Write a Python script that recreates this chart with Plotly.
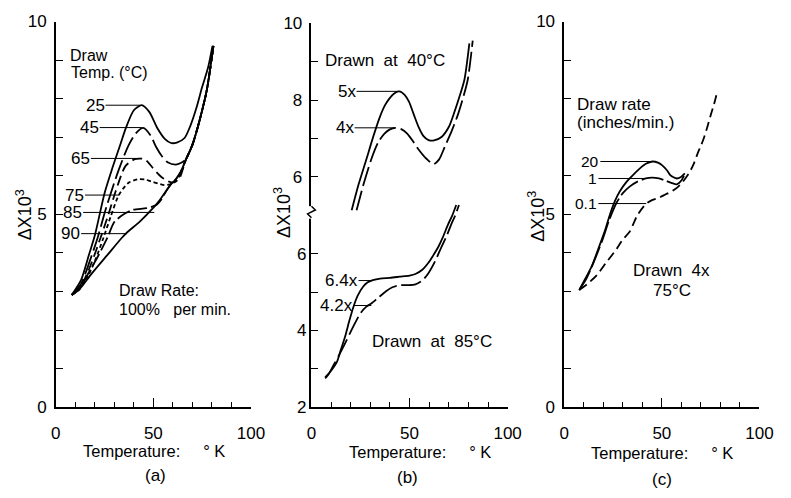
import plotly.graph_objects as go

W, H = 791, 498
FONT = "Liberation Sans"

# ---------------- panel (a): draw temperature ----------------
a_x_25 = [8.2, 13, 17, 20, 25, 29, 33, 36, 40, 44, 48, 52, 56, 59, 62, 66, 69, 72, 75, 78, 80.3]
a_y_25 = [2.91, 3.3, 3.95, 4.45, 5.55, 6.2, 6.8, 7.25, 7.7, 7.83, 7.65, 7.24, 6.95, 6.85, 6.86, 6.98, 7.3, 7.75, 8.3, 8.8, 9.37]

a_x_45 = [8.2, 13, 17.5, 21.5, 26, 32.3, 37.3, 41, 44.8, 48.5, 51.5, 54.5, 57.3, 61.5, 64, 66.5, 70, 73.5, 77.3, 80.8]
a_y_45 = [2.91, 3.2, 3.8, 4.4, 5.2, 6.16, 6.79, 7.1, 7.24, 7.05, 6.74, 6.5, 6.35, 6.29, 6.33, 6.42, 6.8, 7.4, 8.2, 9.37]

a_x_65 = [8.2, 13, 18, 23, 27, 30.7, 35.7, 40.5, 45.5, 49.8, 53, 55.7, 58, 60.7, 63.5, 66.5, 70, 73.5, 77.3, 80.8]
a_y_65 = [2.91, 3.15, 3.7, 4.4, 5.0, 5.6, 6.25, 6.43, 6.43, 6.2, 6.02, 5.91, 5.85, 5.83, 5.95, 6.4, 6.8, 7.4, 8.2, 9.37]

a_x_75 = [8.2, 12, 17, 20.5, 24.5, 28.2, 32.3, 37.3, 42.3, 46, 49, 52.5, 55.7, 58.5, 60.7, 63.5, 66.5, 70, 73.5, 77.3, 80.8]
a_y_75 = [2.91, 3.05, 3.45, 3.85, 4.4, 4.95, 5.5, 5.82, 5.91, 5.9, 5.85, 5.8, 5.76, 5.78, 5.83, 6.0, 6.4, 6.8, 7.4, 8.2, 9.37]

a_x_85 = [8.2, 12, 17, 21.5, 26.5, 30, 34.8, 39.8, 46.5, 51.5, 54, 56.5, 59, 61.5, 64, 66.5, 70, 73.5, 77.3, 80.8]
a_y_85 = [2.91, 3.07, 3.5, 3.9, 4.4, 4.8, 5.0, 5.12, 5.16, 5.24, 5.38, 5.6, 5.78, 5.91, 6.1, 6.4, 6.8, 7.4, 8.2, 9.37]

a_x_90 = [8.2, 12, 18.2, 26.5, 34, 36.5, 43.2, 49.8, 53, 56.5, 59, 61.5, 64, 66.5, 70, 73.5, 77.3, 80.8]
a_y_90 = [2.91, 3.05, 3.45, 3.95, 4.4, 4.53, 4.82, 5.16, 5.35, 5.6, 5.78, 5.91, 6.1, 6.4, 6.8, 7.4, 8.2, 9.37]

a_labels = ["25", "45", "65", "75", "85", "90"]
a_label_y = [7.83, 7.25, 6.45, 5.5, 5.05, 4.5]
a_label_x0 = [25.5, 22.5, 18.0, 15.0, 14.0, 13.0]
a_label_x1 = [43.0, 44.0, 44.0, 32.5, 50.5, 36.5]

# ---------------- panel (b): draw ratio ----------------
b_x_5x = [20.5, 24, 28, 31.5, 34.7, 37.5, 39.7, 42, 44.7, 47.5, 49.7, 52, 54.7, 57, 59.7, 62.5, 66.3, 70, 73, 75.5, 78, 80.5]
b_y_5x = [5.13, 5.8, 6.46, 7.05, 7.54, 7.87, 8.04, 8.17, 8.23, 8.14, 7.96, 7.65, 7.29, 7.07, 6.96, 6.95, 7.04, 7.3, 7.71, 8.1, 8.54, 9.48]

b_x_4x = [23, 26.5, 30.5, 34, 37.2, 40, 43, 46, 48.8, 51.5, 54.7, 58.5, 62.2, 65, 68, 71.5, 74.7, 77.5, 79.7, 82.2]
b_y_4x = [5.13, 5.8, 6.46, 6.9, 7.13, 7.24, 7.28, 7.24, 7.13, 6.95, 6.71, 6.48, 6.33, 6.45, 6.79, 7.2, 7.63, 8.1, 8.54, 9.55]

b_x_64x = [7, 10, 13, 15, 17.2, 19.3, 21.3, 23.5, 26.3, 28.5, 31.3, 35, 40, 45, 50, 53, 56.5, 59.7, 62, 64.7, 67, 69.7, 71.8, 73.8]
b_y_64x = [2.78, 2.95, 3.18, 3.5, 3.85, 4.25, 4.6, 4.9, 5.14, 5.25, 5.31, 5.35, 5.37, 5.4, 5.43, 5.47, 5.58, 5.77, 5.95, 6.18, 6.43, 6.77, 7.0, 7.27]

b_x_42x = [7, 9, 11.3, 14, 17, 21.3, 25, 28, 30.5, 34, 38, 41, 44.7, 49, 53, 56.5, 59.7, 63, 66.3, 68.8, 71.3, 73.3, 75.2]
b_y_42x = [2.75, 2.88, 3.1, 3.35, 3.65, 4.1, 4.45, 4.62, 4.7, 4.85, 5.02, 5.12, 5.18, 5.18, 5.2, 5.3, 5.5, 5.8, 6.18, 6.45, 6.77, 7.0, 7.27]

b_up_labels = ["5x", "4x"]
b_up_label_y = [8.23, 7.28]
b_up_label_x0 = [23.0, 22.0]
b_up_label_x1 = [44.5, 43.0]
b_lo_labels = ["6.4x", "4.2x"]
b_lo_label_y = [5.3, 4.65]
b_lo_label_x0 = [24.0, 21.5]
b_lo_label_x1 = [31.0, 30.5]

# ---------------- panel (c): draw rate ----------------
c_x_20 = [7.7, 11, 14.3, 17.7, 21, 23.5, 26, 28.5, 32, 35.2, 38.5, 41.8, 45.2, 48, 50.2, 52.5, 54.3, 56, 57.7, 59.8, 61.8]
c_y_20 = [3.04, 3.35, 3.68, 4.14, 4.6, 5.01, 5.35, 5.6, 5.85, 6.02, 6.18, 6.31, 6.37, 6.34, 6.27, 6.15, 6.02, 5.96, 5.93, 5.97, 6.06]

c_x_1 = [7.7, 11, 15, 19.3, 23, 26.8, 30, 33.5, 37.5, 41.8, 45, 48.5, 52, 55.2, 57.7, 60.2, 61.8]
c_y_1 = [3.04, 3.3, 3.75, 4.3, 4.85, 5.3, 5.55, 5.72, 5.85, 5.93, 5.95, 5.93, 5.87, 5.81, 5.78, 5.89, 6.06]

c_x_01 = [7.7, 12, 16.8, 21.5, 26.8, 30, 33.5, 37.5, 41.8, 45, 48.5, 52, 55.2, 58, 60.2, 62.3, 64.3, 66.5, 68.5, 70.2, 71.8, 73.5, 75.2, 76.7, 78]
c_y_01 = [3.04, 3.2, 3.43, 3.75, 4.1, 4.35, 4.55, 4.98, 5.27, 5.37, 5.43, 5.52, 5.6, 5.7, 5.81, 5.95, 6.1, 6.33, 6.6, 6.8, 7.02, 7.3, 7.6, 7.85, 8.1]

c_labels = ["20", "1", "0.1"]
c_label_y = [6.37, 5.93, 5.28]
c_label_x0 = [18.5, 17.5, 17.5]
c_label_x1 = [45.2, 43.0, 42.0]

x_tick_vals = [0, 50, 100]

# ---------------- figure ----------------
fig = go.Figure()


def curve(x, y, xa, ya, dash):
    fig.add_trace(go.Scatter(
        x=x, y=y, xaxis=xa, yaxis=ya, mode="lines", showlegend=False, hoverinfo="skip",
        line=dict(color="black", width=1.8, dash=dash, shape="spline", smoothing=0.7)))


curve(a_x_25, a_y_25, "x", "y", "solid")
curve(a_x_45, a_y_45, "x", "y", "20px,5px")
curve(a_x_65, a_y_65, "x", "y", "10px,5px")
curve(a_x_75, a_y_75, "x", "y", "4px,3px")
curve(a_x_85, a_y_85, "x", "y", "14px,4px")
curve(a_x_90, a_y_90, "x", "y", "solid")

curve(b_x_5x, b_y_5x, "x2", "y2", "solid")
curve(b_x_4x, b_y_4x, "x2", "y2", "20px,5px")
curve(b_x_64x, b_y_64x, "x2", "y3", "solid")
curve(b_x_42x, b_y_42x, "x2", "y3", "20px,5px")

curve(c_x_20, c_y_20, "x3", "y4", "solid")
curve(c_x_1, c_y_1, "x3", "y4", "22px,4px")
curve(c_x_01, c_y_01, "x3", "y4", "9px,5px")

TICKFONT = dict(family=FONT, size=17, color="black")


def xax(d0, d1, anchor):
    return dict(domain=[d0 / W, d1 / W], anchor=anchor, range=[0, 100], tickvals=x_tick_vals,
                ticks="inside", ticklen=9, tickwidth=1.2, tickcolor="black",
                showline=True, linecolor="black", linewidth=1.5, showgrid=False, zeroline=False,
                minor=dict(dtick=10, tick0=0, ticks="inside", ticklen=5, tickcolor="black", tickwidth=1.2),
                tickfont=TICKFONT, ticklabelstandoff=10, fixedrange=True)


def yax(anchor, rng, vals, texts, top_px=13, showline=True, **kw):
    d = dict(anchor=anchor, domain=[84 / H, 1 - top_px / H], range=rng, tickvals=vals, ticktext=texts,
             ticks="inside", ticklen=7, tickwidth=1.2, tickcolor="black",
             showline=showline, linecolor="black", linewidth=1.5, showgrid=False, zeroline=False,
             tickfont=TICKFONT, ticklabelstandoff=4, fixedrange=True)
    d.update(kw)
    return d


yv = list(range(0, 11))
yt = ["0", "", "", "", "", "5", "", "", "", "", "10"]

fig.update_layout(
    width=W, height=H, margin=dict(l=0, r=0, t=0, b=0),
    paper_bgcolor="white", plot_bgcolor="white", showlegend=False,
    xaxis=xax(52, 252, "y"),
    xaxis2=xax(314, 515, "y2"),
    xaxis3=xax(573, 773, "y4"),
    yaxis=yax("x", [0, 10], yv, yt),
    yaxis2=yax("x2", [0.0, 10.0], [6, 7, 8, 9, 10], ["6", "", "8", "", "10"], top_px=15),
    yaxis3=yax("x2", [2, 12.0], [2, 3, 4, 5, 6], ["2", "", "4", "", "6"], top_px=15,
               showline=False, overlaying="y2"),
    yaxis4=yax("x3", [0, 10], yv, yt),
)


def px_txt(xp, yp, s, size=16, xanchor="left", angle=0):
    fig.add_annotation(x=xp / W, y=1 - yp / H, xref="paper", yref="paper", text=s, showarrow=False,
                       xanchor=xanchor, yanchor="middle", textangle=angle, align="center",
                       font=dict(family=FONT, size=size, color="black"))


def label_lines(labels, ly, lx0, lx1, xr, yr, size=17):
    for s, y, x0, x1 in zip(labels, ly, lx0, lx1):
        fig.add_shape(type="line", xref=xr, yref=yr, x0=x0, x1=x1, y0=y, y1=y,
                      line=dict(color="black", width=1))
        fig.add_annotation(x=x0, y=y, xref=xr, yref=yr, text=s, showarrow=False, xanchor="right",
                           yanchor="middle", xshift=0, borderpad=0,
                           font=dict(family=FONT, size=size, color="black"))


label_lines(a_labels, a_label_y, a_label_x0, a_label_x1, "x", "y")
label_lines(b_up_labels, b_up_label_y, b_up_label_x0, b_up_label_x1, "x2", "y2")
label_lines(b_lo_labels, b_lo_label_y, b_lo_label_x0, b_lo_label_x1, "x2", "y3")
label_lines(c_labels, c_label_y, c_label_x0, c_label_x1, "x3", "y4", size=15.5)

NB = "\u00a0"
TEMP_TITLE = "Temperature:" + NB * 5 + "°" + NB + "K"

# panel (a) texts
px_txt(65, 48, "Draw")
px_txt(66, 66, "Temp." + NB + "(°C)")
px_txt(115, 293, "Draw Rate:")
px_txt(115, 312, "100%" + NB * 3 + "per" + NB + "min.")
px_txt(153, 460, TEMP_TITLE, size=16.5, xanchor="center")
px_txt(154, 485, "(a)", size=17, xanchor="center")
px_txt(20, 214, "ΔX10<sup>3</sup>", size=18, xanchor="center", angle=-90)

# panel (b) texts
px_txt(326, 54, "Drawn" + NB * 2 + "at" + NB * 2 + "40°C", size=17)
px_txt(374, 346, "Drawn" + NB * 2 + "at" + NB * 2 + "85°C", size=17)
px_txt(425, 461, TEMP_TITLE, size=16.5, xanchor="center")
px_txt(412, 487, "(b)", size=17, xanchor="center")
px_txt(285, 212, "ΔX10<sup>3</sup>", size=18, xanchor="center", angle=-90)

# panel (c) texts
px_txt(584, 99, "Draw rate", size=17)
px_txt(584, 118, "(inches/min.)", size=17)
px_txt(683, 272, "Drawn" + NB * 2 + "4x", size=17, xanchor="center")
px_txt(683, 293, "75°C", size=17, xanchor="center")
px_txt(673, 462, TEMP_TITLE, size=16.5, xanchor="center")
px_txt(673, 489, "(c)", size=17, xanchor="center")
px_txt(545, 215, "ΔX10<sup>3</sup>", size=18, xanchor="center", angle=-90)

# axis break mark on panel (b)
fig.add_shape(type="rect", xref="paper", yref="paper", x0=308 / W, x1=320 / W,
              y0=1 - 218 / H, y1=1 - 205 / H, line=dict(width=0), fillcolor="white")
fig.add_shape(type="path", xref="paper", yref="paper",
              path=f"M {314/W},{1-205/H} L {318/W},{1-209/H} L {310/W},{1-213/H} L {314/W},{1-217/H}",
              line=dict(color="black", width=1.5))

fig.write_html("out.html")
